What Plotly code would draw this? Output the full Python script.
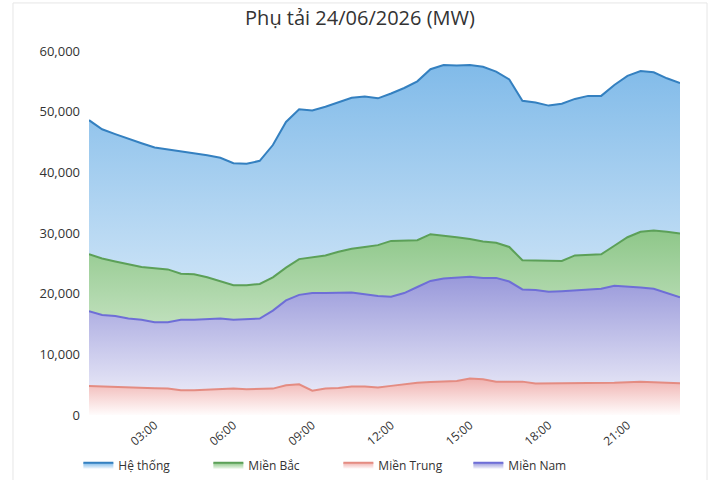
import plotly.graph_objects as go

# half-hourly time points from 00:30 to 23:00 (hours)
hours = [0.5 * i for i in range(1, 47)]

he_thong = [48600, 47100, 46300, 45500, 44800, 44100, 43800, 43400, 43100, 42800,
            42400, 41500, 41400, 41900, 44500, 48300, 50400, 50200, 50800, 51500,
            52300, 52500, 52200, 53000, 53900, 55000, 57000, 57700, 57600, 57700,
            57400, 56600, 55300, 51800, 51500, 51000, 51300, 52100, 52600, 52600,
            54400, 55900, 56700, 56500, 55500, 54700]

mien_bac = [26500, 25800, 25300, 24900, 24400, 24200, 24000, 23300, 23200, 22700,
            22100, 21400, 21400, 21600, 22700, 24300, 25700, 26000, 26300, 26900,
            27400, 27700, 28000, 28700, 28800, 28800, 29800, 29600, 29300, 29000,
            28600, 28400, 27700, 25500, 25500, 25400, 25400, 26300, 26400, 26500,
            27900, 29300, 30200, 30400, 30200, 29900]

mien_trung = [4800, 4700, 4600, 4500, 4450, 4400, 4350, 4100, 4100, 4200,
              4250, 4350, 4250, 4250, 4350, 4900, 5050, 4000, 4350, 4450,
              4700, 4700, 4550, 4800, 5100, 5300, 5450, 5550, 5600, 6000,
              5900, 5500, 5500, 5500, 5200, 5200, 5300, 5300, 5300, 5300,
              5300, 5400, 5500, 5400, 5300, 5250]

mien_nam = [17100, 16500, 16300, 15900, 15700, 15300, 15300, 15700, 15700, 15800,
            15900, 15700, 15800, 15900, 17200, 18900, 19800, 20100, 20100, 20100,
            20200, 19900, 19600, 19500, 20100, 21100, 22100, 22500, 22700, 22800,
            22600, 22600, 22000, 20700, 20600, 20300, 20400, 20500, 20700, 20800,
            21300, 21200, 21000, 20800, 20100, 19400]

tick_hours = [3, 6, 9, 12, 15, 18, 21]
tick_labels = ["03:00", "06:00", "09:00", "12:00", "15:00", "18:00", "21:00"]

series = [
    # name, values, line colour, gradient bottom, gradient top, stop, legend rank
    ("Hệ thống", he_thong, "rgb(52,128,192)", "rgb(246,250,254)", "rgb(124,184,232)", 60000, 1),
    ("Miền Bắc", mien_bac, "rgb(92,160,88)", "rgb(240,248,238)", "rgb(140,198,135)", 31000, 2),
    ("Miền Nam", mien_nam, "rgb(110,110,215)", "rgb(246,246,252)", "rgb(152,152,218)", 23000, 4),
    ("Miền Trung", mien_trung, "rgb(228,140,130)", "rgb(255,252,252)", "rgb(240,178,176)", 6000, 3),
]

fig = go.Figure()
for name, vals, lc, c0, c1, stop, rank in series:
    fig.add_trace(go.Scatter(
        x=hours, y=vals, name=name, mode="lines",
        line=dict(color=lc, width=2),
        fill="tozeroy",
        fillgradient=dict(type="vertical", start=0, stop=stop,
                          colorscale=[[0, c0], [1, c1]]),
        legendrank=rank,
    ))

fig.update_layout(
    width=720, height=480,
    margin=dict(l=89, r=40, t=51, b=65, autoexpand=False),
    paper_bgcolor="white", plot_bgcolor="white",
    font=dict(family="Open Sans, Noto Sans, sans-serif", color="#333333", size=13),
    title=dict(text="Phụ tải 24/06/2026 (MW)", x=0.5, xanchor="center",
               y=0.962, yanchor="middle", font=dict(size=20, color="#333333")),
    showlegend=True,
    legend=dict(orientation="h", x=-0.018, xanchor="left", y=-0.137, yanchor="middle",
                entrywidth=85, entrywidthmode="pixels",
                font=dict(size=12, color="#333333"), traceorder="normal"),
    shapes=[dict(type="rect", xref="paper", yref="paper",
                 x0=-0.1286, x1=1.0457, y0=-0.3, y1=1.132,
                 line=dict(color="#e6e6e6", width=1), layer="below")],
)
fig.update_xaxes(range=[0.5, 23], tickvals=tick_hours, ticktext=tick_labels,
                 tickangle=-40, showgrid=False, zeroline=False, showline=False,
                 tickfont=dict(size=12, color="#333333"))
fig.update_yaxes(range=[0, 60000], tickvals=[0, 10000, 20000, 30000, 40000, 50000, 60000],
                 tickformat=",", showgrid=False, zeroline=False, showline=False,
                 ticklabelstandoff=8, tickfont=dict(size=13, color="#333333"))

fig.write_html("out.html")
